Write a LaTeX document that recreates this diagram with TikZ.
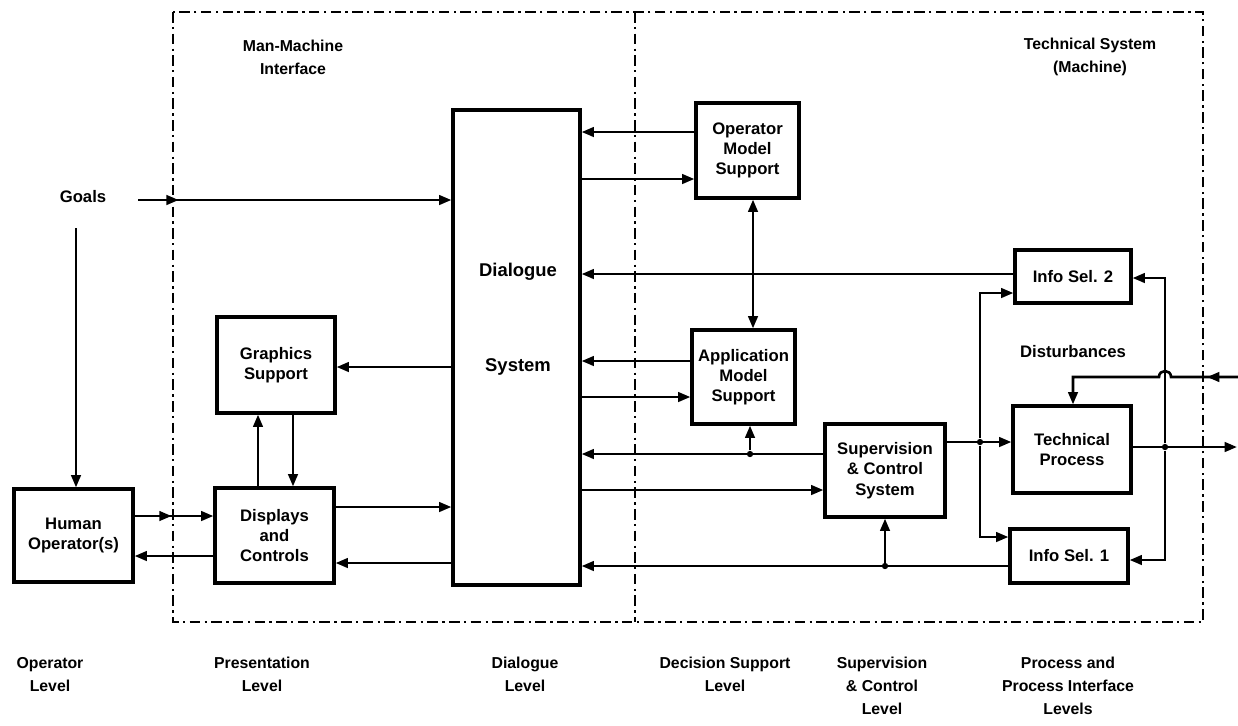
\documentclass[tikz,border=0pt]{standalone}
\usepackage{fontspec}
\setmainfont{Liberation Sans}
\usetikzlibrary{arrows.meta,decorations.markings,calc}

\begin{document}
\begin{tikzpicture}[x=0.02cm,y=-0.02cm,
  font=\fontsize{9.5}{11.5}\selectfont\bfseries,
  box/.style 2 args={draw,line width=1.8pt,minimum width=#1*0.02cm,minimum height=#2*0.02cm,inner sep=0pt,align=center},
  lbl/.style={align=center,inner sep=0pt},
  levlbl/.style={align=center,inner sep=0pt,anchor=north,font=\fontsize{9}{13}\selectfont\bfseries},
  conn/.style={line width=1.5pt},
  arr/.style={-{Triangle[length=7pt,width=5.4pt]}},
  twoway/.style={{Triangle[length=7pt,width=5.4pt]}-{Triangle[length=7pt,width=5.4pt]}},
  midtip/.style={postaction={decorate},decoration={markings,mark=at position #1 with {\arrow{Triangle[length=7pt,width=5.4pt]}}}},
  sysframe/.style={line width=1.3pt,dash pattern=on 6pt off 2.5pt on 1.3pt off 2.5pt},
  jdot/.style={circle,fill,inner sep=0pt,minimum size=3.6pt}
]
\useasboundingbox (0,0) rectangle (1238,725);

% system boundaries
\draw[sysframe] (173,12) rectangle (1203,622);
\draw[sysframe] (635,12) -- (635,622);
\node[lbl,font=\fontsize{9}{13}\selectfont\bfseries] (mmi) at (293,57) {Man-Machine\\Interface};
\node[lbl,font=\fontsize{9}{13}\selectfont\bfseries] (tsm) at (1090,57) {Technical System\\(Machine)};

% blocks
\node[box={119}{93}] (hum) at (73.5,535.5) {Human\\Operator(s)};
\node[box={119}{95}] (disp) at (274.5,535.5) {\fontsize{9.5}{12.5}\selectfont Displays\\and\\Controls};
\node[box={118}{96}] (graph) at (276,365) {Graphics\\Support};
\node[box={127}{475}] (dial) at (516.5,347.5) {};
\node[lbl,font=\fontsize{10.5}{12}\selectfont\bfseries] (dlg1) at (518,272) {Dialogue};
\node[lbl,font=\fontsize{10.5}{12}\selectfont\bfseries] (dlg2) at (518,367) {System};
\node[box={103}{95}] (oms) at (747.5,150.5) {Operator\\Model\\Support};
\node[box={103}{94}] (ams) at (743.5,377) {Application\\Model\\Support};
\node[box={120}{93}] (sc) at (885,470.5) {Supervision\\\& Control\\System};
\node[box={116}{53}] (is2) at (1073,276.5) {Info Sel. 2};
\node[box={118}{87}] (tp) at (1072,449.5) {\fontsize{9.5}{13}\selectfont Technical\\Process};
\node[box={118}{54}] (is1) at (1069,556) {Info Sel. 1};
\node[lbl] (dst) at (1073,352) {Disturbances};

% goals
\node[lbl] (goals) at (83,197) {Goals};
\coordinate (gs) at (138,200);
\coordinate (gd) at (76,228);
\draw[conn,arr,midtip=0.13] (gs) -- (dial.west |- gs);
\draw[conn,arr] (gd) -- (gd |- hum.north);

% operator <-> presentation
\draw[conn,arr,midtip=0.47] (hum.east |- 0,516) -- (disp.west |- 0,516);
\draw[conn,arr] (disp.west |- 0,556) -- (hum.east |- 0,556);
\draw[conn,arr] (disp.north -| 258,0) -- (graph.south -| 258,0);
\draw[conn,arr] (graph.south -| 293,0) -- (disp.north -| 293,0);

% presentation <-> dialogue
\draw[conn,arr] (dial.west |- 0,367) -- (graph.east |- 0,367);
\draw[conn,arr] (disp.east |- 0,507) -- (dial.west |- 0,507);
\draw[conn,arr] (dial.west |- 0,563) -- (disp.east |- 0,563);

% dialogue <-> decision support
\draw[conn,arr] (oms.west |- 0,132) -- (dial.east |- 0,132);
\draw[conn,arr] (dial.east |- 0,179) -- (oms.west |- 0,179);
\draw[conn,twoway] (oms.south -| 753,0) -- (ams.north -| 753,0);
\draw[conn,arr] (is2.west |- 0,274) -- (dial.east |- 0,274);
\draw[conn,arr] (ams.west |- 0,361) -- (dial.east |- 0,361);
\draw[conn,arr] (dial.east |- 0,397) -- (ams.west |- 0,397);

% dialogue <-> supervision
\node[jdot] (j1) at (750,454) {};
\node[jdot] (j2) at (885,566) {};
\draw[conn,arr] (sc.west |- 0,454) -- (dial.east |- 0,454);
\draw[conn,arr] (j1) -- (j1 |- ams.south);
\draw[conn,arr] (dial.east |- 0,490) -- (sc.west |- 0,490);
\draw[conn,arr] (is1.west |- 0,566) -- (dial.east |- 0,566);
\draw[conn,arr] (j2) -- (j2 |- sc.south);

% process level
\node[jdot] (j3) at (980,442) {};
\node[jdot] (j4) at (1165,447) {};
\coordinate (out) at (1237,447);
\coordinate (dist) at (1238,377);
\draw[conn,arr] (sc.east |- 0,442) -- (tp.west |- 0,442);
\draw[conn,arr] (j3) |- (is2.west |- 0,293);
\draw[conn,arr] (j3) |- (is1.west |- 0,537);
\draw[conn,arr] (tp.east |- 0,447) -- (out);
\draw[conn,arr] (j4) |- (is2.east |- 0,278);
\draw[conn,arr] (j4) |- (is1.east |- 0,560);
\draw[conn,arr,midtip=0.62cm] (dist) -- (1171,377) .. controls (1171,369) and (1159,369) .. (1159,377) -- (1073,377) -- (tp.north -| 1073,0);

% level captions
\node[levlbl] (l1) at (50,657) {Operator\\Level};
\node[levlbl] (l2) at (262,657) {Presentation\\Level};
\node[levlbl] (l3) at (525,657) {Dialogue\\Level};
\node[levlbl] (l4) at (725,657) {Decision Support\\Level};
\node[levlbl] (l5) at (882,657) {Supervision\\\& Control\\Level};
\node[levlbl] (l6) at (1068,657) {Process and\\Process Interface\\Levels};
\end{tikzpicture}
\end{document}
